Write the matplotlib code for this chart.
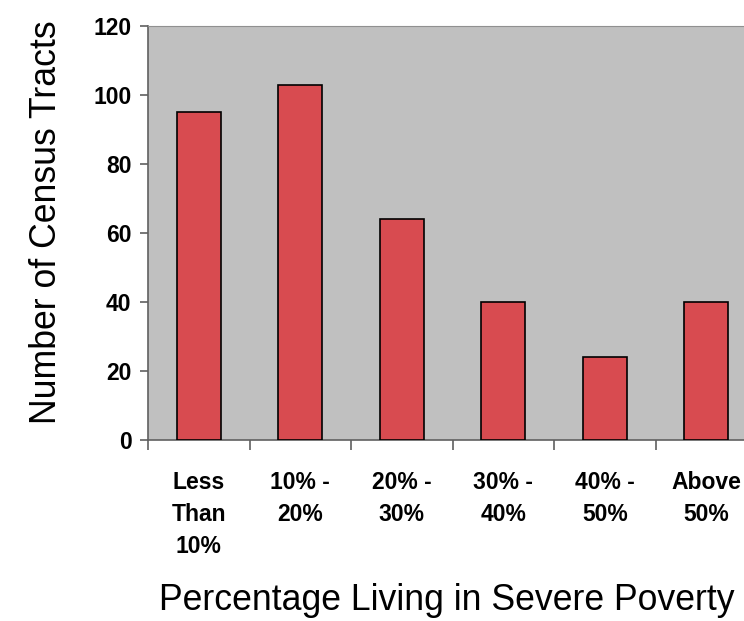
import numpy as np
import matplotlib
matplotlib.use('Agg')
import matplotlib.pyplot as plt

plt.rcParams['font.family'] = ['Liberation Sans', 'DejaVu Sans']

# Census tracts by share of residents in severe poverty
categories = ['Less\nThan\n10%', '10% -\n20%', '20% -\n30%', '30% -\n40%', '40% -\n50%', 'Above\n50%']
tract_counts = [95, 103, 64, 40, 24, 40]

fig = plt.figure(figsize=(7.44, 6.21), dpi=100)
# plot area runs past the right edge of the figure
ax = fig.add_axes([0.199, 0.2915, 0.8185, 0.6667])
ax.set_facecolor('#C0C0C0')

x = np.arange(len(categories))
ax.bar(x, tract_counts, width=0.43, color='#D84B50', edgecolor='black', linewidth=1.2, zorder=3)

ax.set_xlim(-0.5, len(categories) - 0.5)
ax.set_ylim(0, 120)
ax.set_yticks(range(0, 121, 20))
ax.set_yticklabels([str(v) for v in range(0, 121, 20)], fontsize=16.5, fontweight='bold')

# category labels between boundary ticks
ax.set_xticks(x)
ax.set_xticklabels(categories, fontsize=16.5, fontweight='bold', linespacing=1.5, va='top')
ax.tick_params(axis='x', length=0, pad=22)
ax.set_xticks(np.arange(-0.5, len(categories), 1), minor=True)
ax.tick_params(axis='x', which='minor', length=7, color='#606060', width=1.2)
ax.tick_params(axis='y', length=6, color='#606060', width=1.2, pad=6)

for side in ['left', 'bottom']:
    ax.spines[side].set_color('#606060')
    ax.spines[side].set_linewidth(1.2)
ax.spines['top'].set_color('#909090')
ax.spines['right'].set_visible(False)

ax.set_ylabel('Number of Census Tracts', fontsize=25.7, labelpad=21)
ax.yaxis.label.set_y(0.525)
ax.set_xlabel('Percentage Living in Severe Poverty', fontsize=25.7, labelpad=18)
ax.xaxis.label.set_x(0.49)

fig.savefig('out.png', dpi=100)
